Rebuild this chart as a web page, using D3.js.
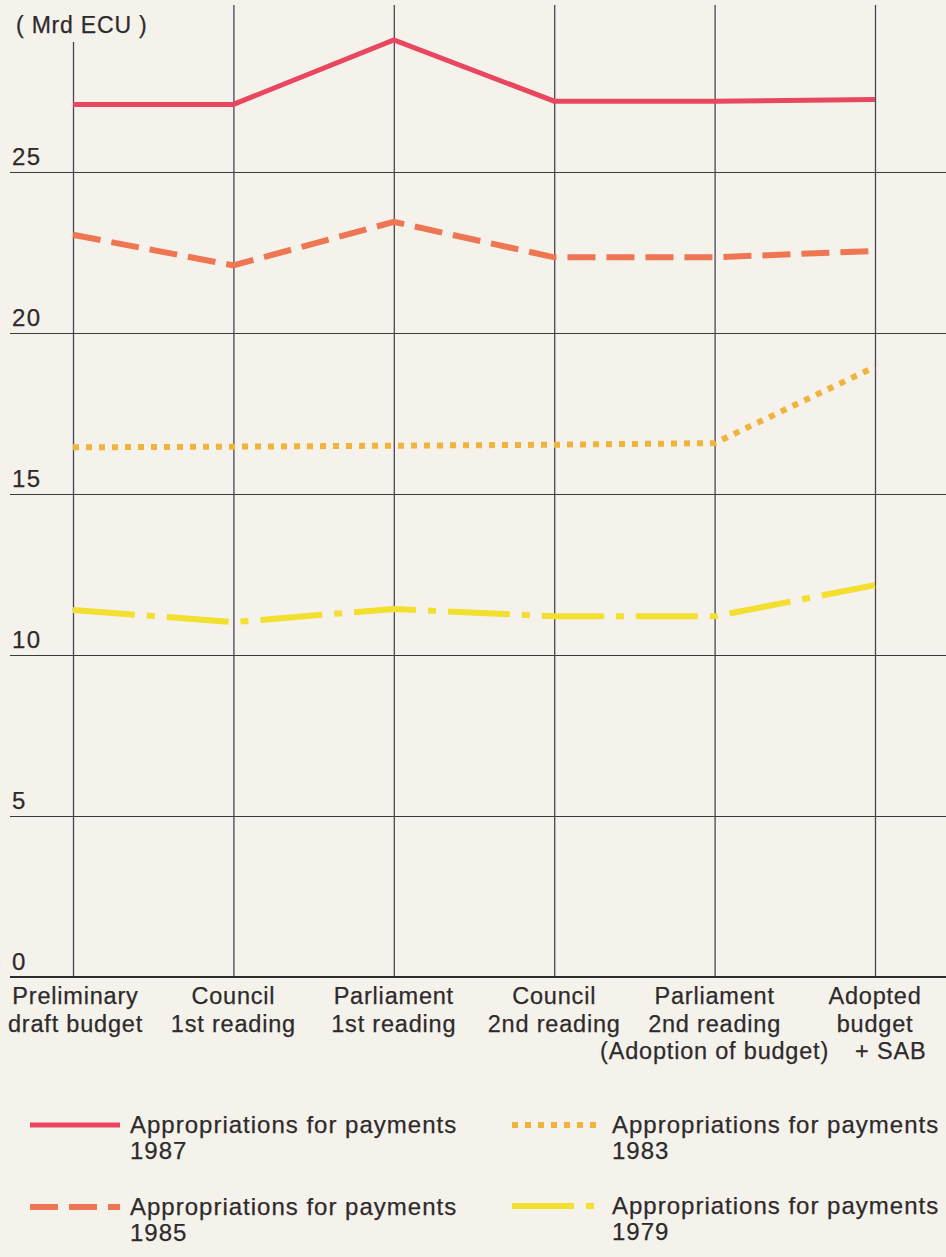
<!DOCTYPE html>
<meta charset="utf-8">
<style>
  body { margin: 0; background: #f4f2eb; }
  text { font-family: "Liberation Sans", Arial, sans-serif; fill: #2e2a2b; stroke: #2e2a2b; stroke-width: 0.25; }
</style>
<body>
  <div id="chart"></div>
  <script src="https://d3js.org/d3.v7.min.js"></script>
  <script>
    // stages of the budget procedure
    var stages = ["pdb", "c1", "p1", "c2", "p2", "adopted"];
    var stageLabels = [
      ["Preliminary", "draft budget"],
      ["Council", "1st reading"],
      ["Parliament", "1st reading"],
      ["Council", "2nd reading"],
      ["Parliament", "2nd reading", "(Adoption of budget)"],
      ["Adopted", "budget", "+ SAB"]
    ];

    // appropriations for payments, Mrd ECU
    var pay1987 = [27.1, 27.1, 29.1, 27.2, 27.2, 27.25];
    var pay1985 = [23.05, 22.1, 23.45, 22.35, 22.35, 22.55];
    var pay1983 = [16.45, 16.47, 16.5, 16.53, 16.58, 18.95];
    var pay1979 = [11.4, 11.02, 11.43, 11.2, 11.2, 12.17];

    var yTicks = [0, 5, 10, 15, 20, 25];
    var unitLabel = "( Mrd ECU )";

    var series = [
      { name: "Appropriations for payments", year: "1987", values: pay1987, color: "#e9475f", dash: null },
      { name: "Appropriations for payments", year: "1985", values: pay1985, color: "#ee7652", dash: "28,11" },
      { name: "Appropriations for payments", year: "1983", values: pay1983, color: "#f0b33c", dash: "6,7" },
      { name: "Appropriations for payments", year: "1979", values: pay1979, color: "#f2df2e", dash: "62,12,8,12" }
    ];

    var W = 946, H = 1257;
    var svg = d3.select("#chart").append("svg")
      .attr("width", W)
      .attr("height", H);

    svg.append("rect").attr("width", W).attr("height", H).attr("fill", "#f4f2eb");

    var x = d3.scalePoint().domain(stages).range([73, 875]);
    var y = d3.scaleLinear().domain([0, 25]).range([977, 172]);

    // horizontal grid
    svg.append("g")
      .attr("transform", "translate(946,0)")
      .call(d3.axisLeft(y).tickValues(yTicks.slice(1)).tickSize(936).tickFormat(""))
      .call(function(g) {
        g.select(".domain").remove();
        g.selectAll(".tick line").attr("stroke", "#3d3a3e").attr("stroke-width", 1.2);
      });

    // vertical grid
    svg.append("g")
      .attr("transform", "translate(0,977)")
      .call(d3.axisTop(x).tickSize(972).tickFormat(""))
      .call(function(g) {
        g.select(".domain").remove();
        g.selectAll(".tick line").attr("stroke", "#4a4458").attr("stroke-width", 1.3)
          .attr("y2", function(d, i) { return i === 0 ? -935 : -972; });
      });

    // baseline
    svg.append("line")
      .attr("x1", 10).attr("x2", W)
      .attr("y1", y(0)).attr("y2", y(0))
      .attr("stroke", "#2f2b2c").attr("stroke-width", 2.2);

    // y tick labels
    svg.selectAll(".ylab")
      .data(yTicks)
      .enter().append("text")
      .attr("class", "ylab")
      .attr("x", 12)
      .attr("y", function(d) { return y(d) - 7; })
      .attr("font-size", 24)
      .attr("letter-spacing", 1.5)
      .text(function(d) { return d; });

    svg.append("text")
      .attr("x", 16).attr("y", 33)
      .attr("font-size", 23)
      .attr("letter-spacing", 0.8)
      .text(unitLabel);

    // category labels
    var spans = [];
    stageLabels.forEach(function(lines, i) {
      var t = svg.append("text")
        .attr("font-size", 23.5)
        .attr("letter-spacing", 0.8)
        .attr("text-anchor", "middle");
      spans[i] = lines.map(function(s, j) {
        return t.append("tspan")
          .attr("x", x(stages[i]))
          .attr("y", 1004 + j * 27.5)
          .text(s);
      });
      // keep the first label inside the frame
      var bb = t.node().getBBox();
      if (bb.x < 8) t.selectAll("tspan").attr("dx", 8 - bb.x);
    });
    // nudge lines that run into their left neighbour
    spans.forEach(function(group, i) {
      if (i === 0) return;
      group.forEach(function(sp, j) {
        var prev = spans[i - 1][j];
        if (!prev) return;
        var a = prev.node().getBBox(), b = sp.node().getBBox();
        var gap = b.x - (a.x + a.width);
        if (gap < 26) sp.attr("dx", 26 - gap);
      });
    });

    var line = d3.line()
      .x(function(d, i) { return x(stages[i]); })
      .y(function(d) { return y(d); });

    svg.selectAll(".series")
      .data(series.slice().reverse())
      .enter().append("path")
      .attr("class", "series")
      .attr("d", function(s) { return line(s.values); })
      .attr("fill", "none")
      .attr("stroke", function(s) { return s.color; })
      .attr("stroke-width", function(s, i) { return s.year === "1987" ? 5 : 6; })
      .attr("stroke-dasharray", function(s) { return s.dash; });

    // legend
    var legendPos = [[30, 1125], [30, 1207], [512, 1125], [512, 1206]];
    series.forEach(function(s, i) {
      var p = legendPos[i];
      var g = svg.append("g").attr("transform", "translate(" + p[0] + "," + p[1] + ")");
      g.append("line")
        .attr("x1", 0).attr("x2", s.year === "1987" || s.year === "1985" ? 90 : 84)
        .attr("y1", 0).attr("y2", 0)
        .attr("stroke", s.color)
        .attr("stroke-width", s.year === "1987" ? 5 : 6)
        .attr("stroke-dasharray", s.dash);
      var t = g.append("text")
        .attr("font-size", 24)
        .attr("letter-spacing", 1);
      t.append("tspan").attr("x", 100).attr("y", 8).text(s.name);
      t.append("tspan").attr("x", 100).attr("y", 34).text(s.year);
    });
  </script>
</body>
